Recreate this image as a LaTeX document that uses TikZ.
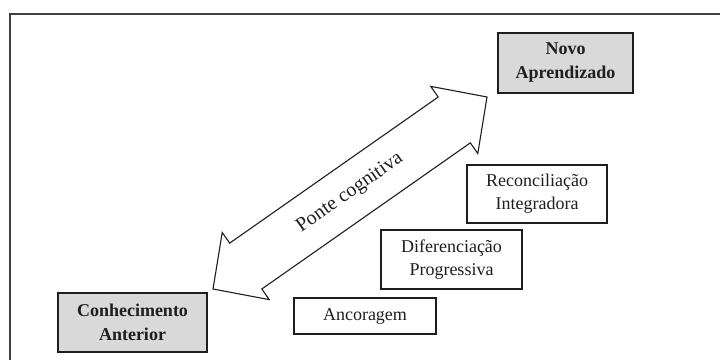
\documentclass[tikz,border=0pt]{standalone}
\usepackage{fontspec}
\setmainfont{Liberation Serif}
\usetikzlibrary{calc}
\definecolor{boxgray}{HTML}{D9D9D9}
\definecolor{ink}{HTML}{1E1E1E}
\begin{document}
\begin{tikzpicture}[x=1pt,y=-1pt,
  keybox/.style={draw=ink, line width=1.6pt, fill=boxgray, text=ink, inner sep=0pt,
    align=center, font=\fontsize{18}{24}\selectfont\bfseries},
  stagebox/.style={draw=ink, line width=1.1pt, fill=white, text=ink, inner sep=0pt,
    align=center, font=\fontsize{18}{23}\selectfont},
  bridge/.style={draw=ink, line width=1.1pt, fill=white, line join=miter}]
\useasboundingbox (0,0) rectangle (720,360);
\fill[white] (0,0) rectangle (720,360);
% outer frame (partially visible)
\draw[ink!85, line width=1.1pt] (10,360) -- (10,14) -- (720,14);

% boxes
\node[keybox, minimum width=135pt, minimum height=60pt] (novo) at (565.5,63) {Novo\\Aprendizado};
\node[keybox, minimum width=149pt, minimum height=59pt] (conh) at (132.5,322.5) {Conhecimento\\Anterior};
\node[stagebox, minimum width=142pt, minimum height=36pt] (anc) at (365,316) {Ancoragem};
\node[stagebox, minimum width=141pt, minimum height=59pt] (dif) at (451.5,259.5) {Diferenciação\\Progressiva};
\node[stagebox, minimum width=140pt, minimum height=58pt] (rec) at (537,194) {Reconciliação\\Integradora};

% double arrow (cognitive bridge)
\coordinate (tipA) at (213,289);
\coordinate (tipB) at (487,97);
\begin{scope}[shift={(tipA)}, rotate=35.02]
  \draw[bridge] (0,0) -- (40,-41) -- (40,-28) -- (294.6,-28) -- (294.6,-41) -- (334.6,0)
     -- (294.6,41) -- (294.6,28) -- (40,28) -- (40,41) -- cycle;
\end{scope}
\node[text=ink, rotate=35.02, font=\fontsize{20}{24}\selectfont] (ponte) at ($(tipA)!0.5!(tipB)$) {Ponte cognitiva};
\end{tikzpicture}
\end{document}
